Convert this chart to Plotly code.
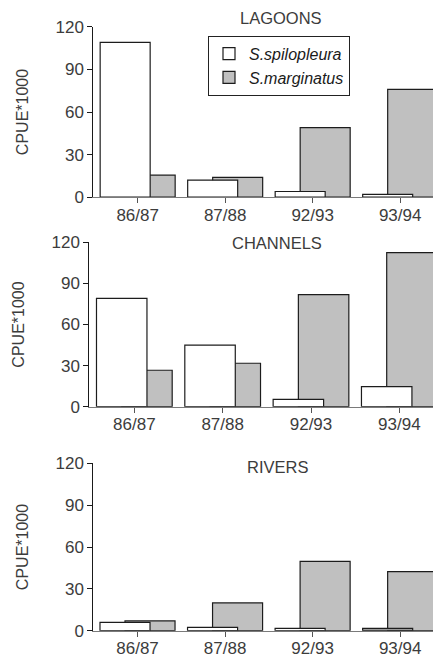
import plotly.graph_objects as go

# The page body has an 8px default margin, so the figure is drawn 8px in
# from the top-left corner of the window; all pixel positions below are
# window positions and are converted to figure positions with OFF.
OFF = 8
W, H = 441 - OFF, 658 - OFF

seasons = ["86/87", "87/88", "92/93", "93/94"]
panels = ["LAGOONS", "CHANNELS", "RIVERS"]
species = ["S.spilopleura", "S.marginatus"]

lagoons_spilo = [109, 12, 4, 2]
lagoons_marg = [15.5, 14, 49, 76]
channels_spilo = [79, 45, 5.4, 14.6]
channels_marg = [26.6, 31.7, 81.8, 112.4]
rivers_spilo = [6, 2.4, 1.7, 1.7]
rivers_marg = [7, 19.9, 49.7, 42.3]

yticks = [0, 30, 60, 90, 120]

FONT = "Liberation Sans, Arial, sans-serif"
TXT = "#3c3c3c"
GRAY = "#c0c0c0"
EDGE = "#1c1c1c"


def px_x(p):
    return (p - OFF) / W


def px_y(p):
    return 1 - (p - OFF) / H


# layout geometry in window pixels (left, right, top(120), bottom(0)), x range
geo = [
    (93.3, 440.0, 26.8, 197.2, [-0.507, 3.455]),
    (89.3, 437.3, 242.3, 406.7, [-0.51, 3.43]),
    (93.3, 440.0, 463.3, 630.7, [-0.505, 3.455]),
]
data = [
    (lagoons_spilo, lagoons_marg),
    (channels_spilo, channels_marg),
    (rivers_spilo, rivers_marg),
]
spilo_colors = [
    ["white"] * 4,
    ["white"] * 4,
    ["white", "white", "white", "#9a9a9a"],
]

xs = list(range(len(seasons)))
BW = 0.5714

fig = go.Figure()
layout = dict(
    width=W, height=H,
    margin=dict(l=0, r=0, t=0, b=0),
    paper_bgcolor="white", plot_bgcolor="white",
    barmode="overlay",
    font=dict(family=FONT, size=16, color=TXT),
    showlegend=True,
    legend=dict(
        x=px_x(208.0), y=px_y(35.7), xanchor="left", yanchor="top",
        bgcolor="white", bordercolor="#222", borderwidth=1,
        font=dict(family=FONT, size=16, color="#1a1a1a", style="italic"),
        itemwidth=30, tracegroupgap=0,
    ),
)
annotations = []

for i, ((spilo, marg), (l, r, t, b, xr)) in enumerate(zip(data, geo)):
    n = "" if i == 0 else str(i + 1)
    xa, ya = "x" + n, "y" + n
    fig.add_trace(go.Bar(
        x=xs, y=marg, name=species[1], xaxis=xa, yaxis=ya,
        width=BW, offset=-0.1429,
        marker=dict(color=GRAY, line=dict(color=EDGE, width=1.2)),
        showlegend=(i == 0), legendrank=2, hoverinfo="skip",
    ))
    fig.add_trace(go.Bar(
        x=xs, y=spilo, name=species[0], xaxis=xa, yaxis=ya,
        width=BW, offset=-0.4286,
        marker=dict(color=spilo_colors[i], line=dict(color=EDGE, width=1.2)),
        showlegend=(i == 0), legendrank=1, hoverinfo="skip",
    ))
    layout["xaxis" + n] = dict(
        domain=[px_x(l), min(px_x(r), 1.0)], range=xr, anchor=ya,
        tickvals=xs, ticktext=seasons,
        showline=True, linecolor="#7a7a7a", linewidth=1.3,
        ticks="outside", ticklen=5, tickcolor="#555", tickwidth=1,
        ticklabelstandoff=-3,
        showgrid=False, zeroline=False, automargin=False,
        tickfont=dict(family=FONT, size=17, color=TXT),
        fixedrange=True,
    )
    layout["yaxis" + n] = dict(
        domain=[px_y(b), px_y(t)], range=[0, 120], anchor=xa,
        tickvals=yticks,
        showline=True, linecolor="#1a1a1a", linewidth=1,
        ticks="outside", ticklen=5, tickcolor="#1a1a1a", tickwidth=1,
        showgrid=False, zeroline=False, automargin=False,
        tickfont=dict(family=FONT, size=17, color=TXT),
        title=dict(text="CPUE*1000", font=dict(family=FONT, size=16, color=TXT), standoff=22),
        fixedrange=True,
    )

title_pos = [(280.7, 18.0), (277.0, 243.3), (277.5, 466.7)]
for name, (px, py) in zip(panels, title_pos):
    annotations.append(dict(
        text=name, x=px_x(px), y=px_y(py), xref="paper", yref="paper",
        xanchor="center", yanchor="middle", showarrow=False,
        font=dict(family=FONT, size=16.5, color=TXT),
    ))

layout["annotations"] = annotations
fig.update_layout(**layout)
fig.write_html("out.html")
